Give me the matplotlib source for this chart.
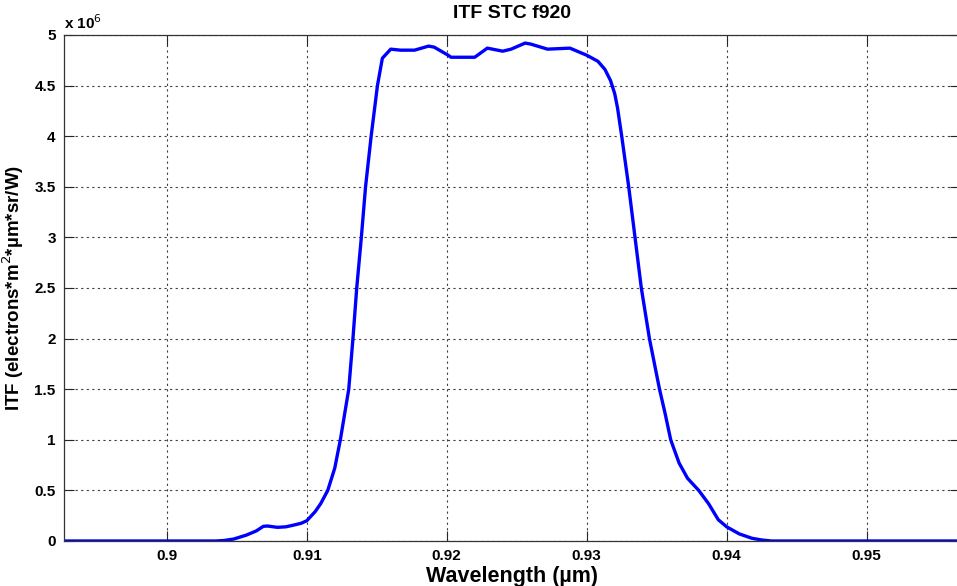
from matplotlib import pyplot as plt
from matplotlib.ticker import FuncFormatter

plt.rcParams['font.family'] = ['Liberation Sans', 'DejaVu Sans']

# wavelength (um) and ITF (x 1e6)
wavelength = [0.8927, 0.9035, 0.9041, 0.9048, 0.9057, 0.9064, 0.9069, 0.9072,
              0.9079, 0.9085, 0.9090, 0.9096, 0.9100, 0.9106, 0.9110, 0.9115,
              0.9120, 0.9124, 0.9130, 0.9133, 0.91357, 0.9139, 0.9142, 0.9146,
              0.91505, 0.9154, 0.9160, 0.9167, 0.9177, 0.9187, 0.9191, 0.9201,
              0.9203, 0.9220, 0.9229, 0.9240, 0.9246, 0.9256, 0.9260, 0.9272,
              0.9288, 0.9300, 0.9308, 0.9313, 0.9317, 0.9320, 0.9322, 0.9325,
              0.9330, 0.93345, 0.9339, 0.93448, 0.9352, 0.9356, 0.9360, 0.9366,
              0.9372, 0.9380, 0.9387, 0.9394, 0.9400, 0.9409, 0.9418, 0.9425,
              0.9432, 0.9567]
itf = [0, 0, 0.005, 0.02, 0.059, 0.10, 0.145, 0.148,
       0.135, 0.14, 0.155, 0.175, 0.20, 0.29, 0.37, 0.50,
       0.72, 1.00, 1.50, 2.00, 2.50, 3.00, 3.50, 4.00,
       4.50, 4.77, 4.86, 4.85, 4.85, 4.89, 4.88, 4.80,
       4.78, 4.78, 4.87, 4.84, 4.86, 4.92, 4.91, 4.86,
       4.87, 4.80, 4.74, 4.66, 4.55, 4.42, 4.28, 4.00,
       3.50, 3.00, 2.50, 2.00, 1.50, 1.26, 1.00, 0.77,
       0.62, 0.50, 0.37, 0.21, 0.14, 0.07, 0.027, 0.01,
       0, 0]

xticks = [0.9, 0.91, 0.92, 0.93, 0.94, 0.95]
yticks = [0, 0.5, 1, 1.5, 2, 2.5, 3, 3.5, 4, 4.5, 5]

fig = plt.figure(figsize=(9.57, 5.86), dpi=100)
ax = fig.add_axes([0.0669, 0.0768, 0.936, 0.8635])

y = [v * 1e6 for v in itf]
ax.plot(wavelength, y, color='#0000ff', lw=2.4)

ax.set_xlim(0.89266, 0.95665)
ax.set_ylim(0, 5e6)
ax.set_xticks(xticks)
ax.set_yticks([t * 1e6 for t in yticks])
ax.xaxis.set_major_formatter(FuncFormatter(lambda v, p: '%g' % round(v, 3)))
ax.yaxis.set_major_formatter(FuncFormatter(lambda v, p: '%g' % (v / 1e6)))
ax.grid(True, linestyle=(0, (2, 3)), color='0.25', lw=0.8)
ax.tick_params(direction='in', length=7, width=0.8, top=True, right=True,
               labelsize=11, colors='0.15', pad=6)
for lab in ax.get_xticklabels() + ax.get_yticklabels():
    lab.set_fontweight('bold')
    lab.set_color('black')
for s in ax.spines.values():
    s.set_color('0.2')
    s.set_linewidth(0.9)
ax.spines['right'].set_visible(False)

ax.text(0.0, 1.005, 'x 10$^6$', transform=ax.transAxes, fontsize=11,
        fontweight='bold', ha='left', va='bottom')
ax.set_title('ITF STC f920', fontsize=14, fontweight='bold', pad=12)
ax.set_xlabel('Wavelength (µm)', fontsize=15.5, fontweight='bold', labelpad=2)
ax.set_ylabel('ITF (electrons*m$^2$*µm*sr/W)', fontsize=13.5, fontweight='bold', labelpad=6)

fig.savefig('out.png', dpi=100)
